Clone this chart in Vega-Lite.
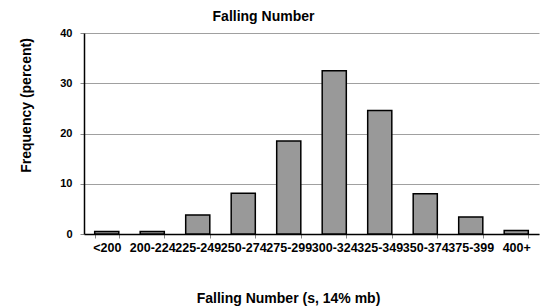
{
  "$schema": "https://vega.github.io/schema/vega-lite/v6.json",
  "width": 455,
  "height": 201,
  "autosize": {"type": "none"},
  "padding": {"left": 84, "top": 33, "right": 1, "bottom": 73},
  "background": "white",
  "title": {
    "text": "Falling Number",
    "font": "Liberation Sans",
    "fontSize": 14,
    "fontWeight": "bold",
    "color": "black",
    "dx": -48,
    "offset": 3
  },
  "config": {
    "view": {"stroke": null},
    "font": "Liberation Sans"
  },
  "data": {
    "values": [
      {"range": "<200", "pct": 0.5},
      {"range": "200-224", "pct": 0.5},
      {"range": "225-249", "pct": 3.8},
      {"range": "250-274", "pct": 8.1},
      {"range": "275-299", "pct": 18.5},
      {"range": "300-324", "pct": 32.5},
      {"range": "325-349", "pct": 24.6},
      {"range": "350-374", "pct": 8.0},
      {"range": "375-399", "pct": 3.4},
      {"range": "400+", "pct": 0.7}
    ]
  },
  "mark": {"type": "bar", "fill": "#999999", "stroke": "black", "strokeWidth": 1.5},
  "encoding": {
    "x": {
      "field": "range",
      "type": "ordinal",
      "sort": null,
      "scale": {"paddingInner": 0.47, "paddingOuter": 0.235},
      "axis": {
        "title": "Falling Number (s, 14% mb)",
        "titleFont": "Liberation Sans",
        "titleFontSize": 14,
        "titleFontWeight": "bold",
        "titleColor": "black",
        "titleX": 204,
        "titleY": 64,
        "titleAlign": "center",
        "titleBaseline": "middle",
        "labelAngle": 0,
        "labelFont": "Liberation Sans",
        "labelFontSize": 12.5,
        "labelFontWeight": "bold",
        "labelColor": "black",
        "labelOverlap": false,
        "labelPadding": 3,
        "labelBaseline": "top",
        "tickBand": "extent",
        "tickSize": 4,
        "tickColor": "#888888",
        "domainColor": "black",
        "domainWidth": 1.5,
        "grid": false
      }
    },
    "y": {
      "field": "pct",
      "type": "quantitative",
      "scale": {"domain": [0, 40], "nice": false},
      "axis": {
        "title": "Frequency (percent)",
        "titleFont": "Liberation Sans",
        "titleFontSize": 14,
        "titleFontWeight": "bold",
        "titleColor": "black",
        "titleAngle": -90,
        "titleX": -58,
        "titleY": 72,
        "titleAlign": "center",
        "titleBaseline": "middle",
        "values": [0, 10, 20, 30, 40],
        "labelFont": "Liberation Sans",
        "labelFontSize": 11,
        "labelFontWeight": "bold",
        "labelColor": "black",
        "labelPadding": 8,
        "tickSize": 4,
        "tickColor": "#888888",
        "domainColor": "black",
        "domainWidth": 1.5,
        "grid": true,
        "gridColor": "#a0a0a0",
        "gridWidth": 1
      }
    }
  }
}
